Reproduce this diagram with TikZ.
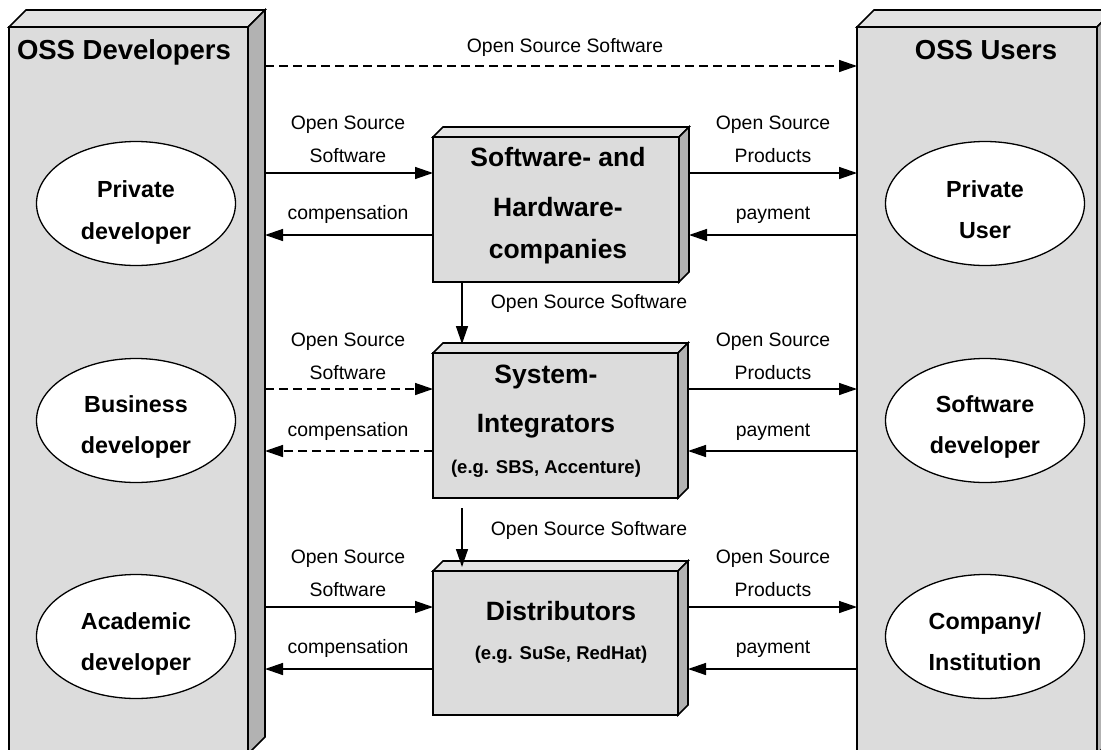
\documentclass[tikz,border=0pt]{standalone}
\usepackage{fontspec}
\setmainfont{Liberation Sans}
\usetikzlibrary{arrows.meta,shapes.geometric}

\definecolor{frontgray}{gray}{0.863}
\definecolor{topgray}{gray}{0.89}
\definecolor{sidegray}{gray}{0.70}

% smaller font for the example lines inside blocks
\newcommand\egfont{\fontsize{18.5}{22}\selectfont}

% top and right faces of a solid block whose front face is node #1, depth #2
\newcommand\blockfaces[2]{%
  \filldraw[outline,fill=topgray] (#1.north west) -- ++(#2,-#2)
    -- ([shift={(#2,-#2)}]#1.north east) -- (#1.north east) -- cycle;
  \filldraw[outline,fill=sidegray] (#1.north east) -- ++(#2,-#2)
    -- ([shift={(#2,-#2)}]#1.south east) -- (#1.south east) -- cycle;}

\begin{document}
\begin{tikzpicture}[x=1pt,y=-1pt,
  outline/.style={draw=black,line width=1.6pt,line join=miter},
  column/.style={outline,fill=frontgray,rectangle,inner sep=0pt,outer sep=0pt,anchor=north west},
  actor/.style={ellipse,draw=black,line width=1.3pt,fill=white,
    minimum width=199pt,minimum height=124pt,inner sep=0pt},
  coltitle/.style={font=\fontsize{27.5}{33}\selectfont\bfseries,inner sep=0pt,anchor=base},
  blocktext/.style={font=\fontsize{26.5}{48.5}\selectfont\bfseries,align=center,inner sep=0pt,anchor=north},
  actortext/.style={font=\fontsize{23.3}{41.5}\selectfont\bfseries,align=center,inner sep=0pt,anchor=north},
  lbl/.style={font=\fontsize{19.4}{24}\selectfont,inner sep=0pt,anchor=base},
  flow/.style={line width=1.4pt,-{Triangle[length=18pt,width=12pt]}},
  dashedflow/.style={flow,dash pattern=on 9pt off 5pt}]

\useasboundingbox (0,0) rectangle (1101,750);

\begin{scope}
\clip (0,0) rectangle (1101,750);

% the two side columns
\node[column,minimum width=239pt,minimum height=727pt] (dev) at (9,27) {};
\blockfaces{dev}{17}
\node[column,minimum width=240pt,minimum height=727pt] (users) at (857,27) {};
\blockfaces{users}{17}

% the three intermediary blocks
\node[column,minimum width=246pt,minimum height=145pt] (b1) at (433,137) {};
\blockfaces{b1}{10}
\node[column,minimum width=245pt,minimum height=145pt] (b2) at (433,353) {};
\blockfaces{b2}{10}
\node[column,minimum width=245pt,minimum height=144pt] (b3) at (433,571) {};
\blockfaces{b3}{10}
\end{scope}

% titles
\node[coltitle] (devtitle) at (124,59) {OSS Developers};
\node[coltitle] (usertitle) at (986,59) {OSS Users};

\node[blocktext,font=\fontsize{26.5}{50}\selectfont\bfseries] (b1text) at (558,147.5)
  {Software- and\\Hardware-\\[-8.7pt]companies};
\node[blocktext] (b2text) at (546,365) {System-\\Integrators\\[-7.5pt]{\egfont(e.g. SBS, Accenture)}};
\node[blocktext] (b3text) at (561,601) {Distributors\\[-9.5pt]{\egfont(e.g. SuSe, RedHat)}};

% developers
\node[actor] (pdev) at (136,203.5) {};
\node[actortext] (pdevtext) at (136,180.5) {Private\\developer};
\node[actor] (bdev) at (136,420.5) {};
\node[actortext] (bdevtext) at (136,395) {Business\\developer};
\node[actor] (adev) at (136,636.5) {};
\node[actortext] (adevtext) at (136,612) {Academic\\developer};

% users
\node[actor] (puser) at (985,203.5) {};
\node[actortext] (pusertext) at (985,180) {Private\\User};
\node[actor] (suser) at (985,420.5) {};
\node[actortext] (susertext) at (985,395) {Software\\developer};
\node[actor] (cuser) at (985,636.5) {};
\node[actortext] (cusertext) at (985,612) {Company/\\Institution};

% reference points for the connectors
\coordinate (devedge) at (265,0);
\coordinate (direct) at (0,66);
\foreach \b in {b1,b2,b3}{
  \coordinate (\b-out) at ([shift={(0,36)}]\b.north west);
  \coordinate (\b-back) at ([shift={(0,98)}]\b.north west);
  \coordinate (\b-rear) at ([xshift=10pt]\b.east);
}

% direct flow between developers and users
\draw[dashedflow] (devedge |- direct) -- (users.west |- direct);
\node[lbl] (directlbl) at (565,52) {Open Source Software};

% developers <-> blocks
\draw[flow] (devedge |- b1-out) -- (b1-out);
\draw[flow] (b1-back) -- (devedge |- b1-back);
\draw[dashedflow] (devedge |- b2-out) -- (b2-out);
\draw[dashedflow] (b2-back) -- (devedge |- b2-back);
\draw[flow] (devedge |- b3-out) -- (b3-out);
\draw[flow] (b3-back) -- (devedge |- b3-back);

% blocks <-> users
\foreach \b in {b1,b2,b3}{
  \draw[flow] (\b-rear |- \b-out) -- (users.west |- \b-out);
  \draw[flow] (users.west |- \b-back) -- (\b-rear |- \b-back);
}

% flows down the chain
\draw[flow] ([xshift=29pt]b1.south west) -- ([shift={(29,-9)}]b2.north west);
\draw[flow] ([shift={(29,10)}]b2.south west) -- ([shift={(29,-4)}]b3.north west);
\node[lbl] (chain1) at (589,308.5) {Open Source Software};
\node[lbl] (chain2) at (589,535) {Open Source Software};

% connector labels
\foreach \r/\dy in {1/0,2/217,3/434}{
  \node[lbl] (oss-\r)  at (348,129.5+\dy) {Open Source};
  \node[lbl] (sw-\r)   at (348,162.5+\dy) {Software};
  \node[lbl] (comp-\r) at (348,219.5+\dy) {compensation};
  \node[lbl] (osp-\r)  at (773,129.5+\dy) {Open Source};
  \node[lbl] (prod-\r) at (773,162.5+\dy) {Products};
  \node[lbl] (pay-\r)  at (773,219.5+\dy) {payment};
}
\end{tikzpicture}
\end{document}
